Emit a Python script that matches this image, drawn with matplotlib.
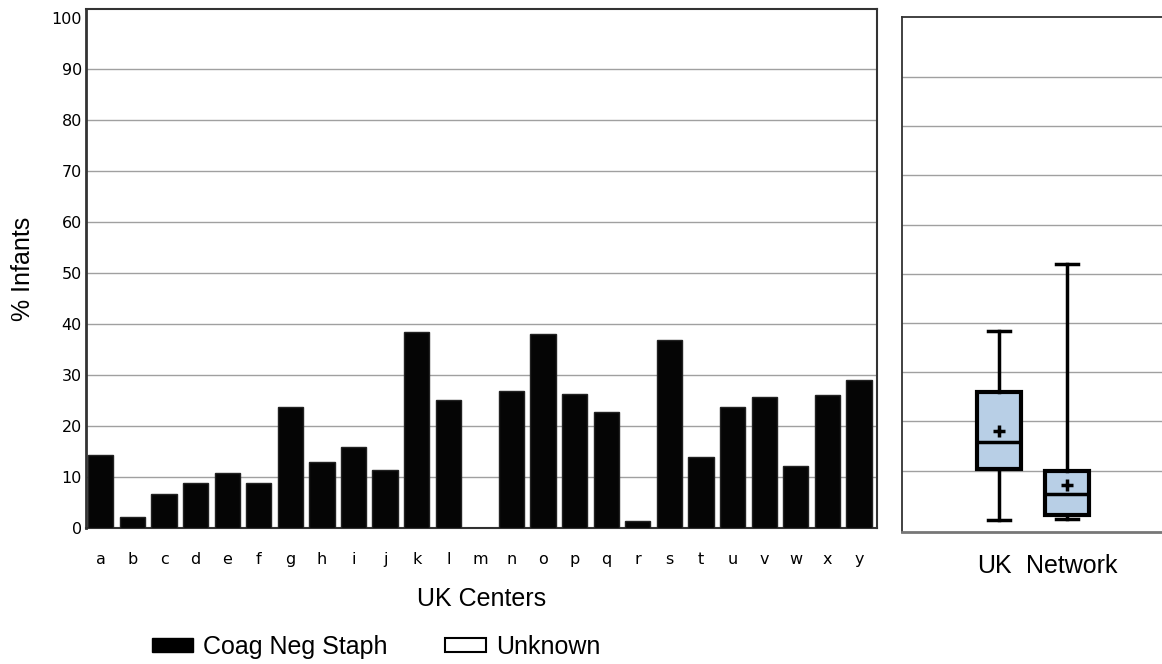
import matplotlib
matplotlib.use("Agg")
import matplotlib.pyplot as plt
from matplotlib.patches import Patch

# bar data (% infants per UK center)
centers = list("abcdefghijklmnopqrstuvwxy")
coag_neg = [14.4, 2.2, 6.7, 8.9, 10.7, 8.8, 23.7, 13.0, 15.9, 11.4, 38.5, 25.2, 0.0,
            26.9, 38.0, 26.3, 22.7, 1.4, 36.9, 13.9, 23.7, 25.6, 12.2, 26.0, 29.1]

# box summary (UK vs Network)
box_labels = ["UK", "Network"]
box_low = [0.0, 0.2]
box_q1 = [10.3, 1.0]
box_med = [15.9, 5.2]
box_q3 = [25.9, 10.0]
box_high = [38.4, 51.9]
box_mean = [18.1, 7.0]

yticks = list(range(0, 101, 10))

fig = plt.figure(figsize=(11.62, 6.64), dpi=100)
ax = fig.add_axes([0.074, 0.2048, 0.6807, 0.7809])
ax2 = fig.add_axes([0.7762, 0.1993, 0.2238, 0.7751])

# left panel
x = range(len(centers))
ax.bar(x, coag_neg, width=0.8, color="#050505", edgecolor="#222222", linewidth=1, zorder=3)
ax.set_xlim(-0.47, 24.57)
ax.set_ylim(0, 101.7)
ax.set_yticks(yticks)
ax.set_yticklabels([str(t) for t in yticks], fontsize=11.5, family="DejaVu Sans")
ax.set_xticks(list(x))
ax.set_xticklabels(centers, fontsize=11.5, family="DejaVu Sans")
ax.tick_params(length=0)
ax.tick_params(axis="y", pad=3)
ax.tick_params(axis="x", pad=17)
for t in yticks[1:-1]:
    ax.axhline(t, color="#a0a0a0", lw=1, zorder=1)
for s in ax.spines.values():
    s.set_color("#333333")
    s.set_linewidth(1.5)
ax.spines["left"].set_linewidth(2)
ax.set_xlabel("UK Centers", fontsize=18, family="Liberation Sans", labelpad=15)
ax.set_ylabel("% Infants", fontsize=18, family="Liberation Sans", labelpad=12)

# right panel
stats = []
for i in range(len(box_labels)):
    stats.append({"label": box_labels[i], "whislo": box_low[i], "q1": box_q1[i],
                  "med": box_med[i], "q3": box_q3[i], "whishi": box_high[i],
                  "mean": box_mean[i]})
ax2.bxp(stats, positions=[1, 2], widths=0.65, capwidths=0.32, showmeans=True,
        showfliers=False, patch_artist=True,
        boxprops=dict(facecolor="#b8cfe6", edgecolor="black", linewidth=3),
        medianprops=dict(color="black", linewidth=2.5),
        whiskerprops=dict(color="black", linewidth=2.5),
        capprops=dict(color="black", linewidth=2.5),
        meanprops=dict(marker="+", markeredgecolor="black", markersize=8,
                       markeredgewidth=2.5))
ax2.set_xlim(-0.426, 3.397)
ax2.set_ylim(-2.4, 102.2)
ax2.set_yticks(yticks[1:-1])
ax2.set_yticklabels([])
ax2.yaxis.grid(True, color="#a0a0a0", lw=1)
ax2.set_axisbelow(True)
# labels sit a little apart from the box centres
ax2.set_xticks([0.94, 2.07])
ax2.set_xticklabels(box_labels, fontsize=18, family="Liberation Sans")
ax2.tick_params(length=0)
ax2.tick_params(axis="x", pad=16)
ax2.spines["right"].set_visible(False)
for s in ["left", "top"]:
    ax2.spines[s].set_color("#333333")
    ax2.spines[s].set_linewidth(1.3)
ax2.spines["bottom"].set_color("#777777")
ax2.spines["bottom"].set_linewidth(2)

# legend
handles = [Patch(facecolor="black", edgecolor="black", label="Coag Neg Staph"),
           Patch(facecolor="white", edgecolor="black", linewidth=1.5, label="Unknown")]
fig.legend(handles=handles, loc="center", bbox_to_anchor=(0.3236, 0.0256), ncol=2,
           frameon=False, prop={"family": "Liberation Sans", "size": 18},
           handlelength=1.64, handleheight=0.48, handletextpad=0.4,
           columnspacing=2.3, borderpad=0, borderaxespad=0)

fig.savefig("out.png", dpi=100)
